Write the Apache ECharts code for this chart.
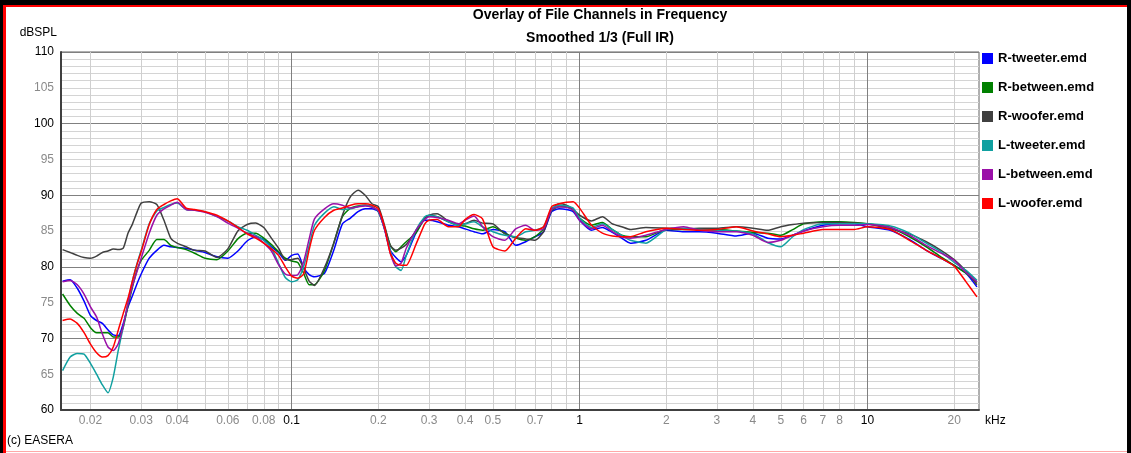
<!DOCTYPE html>
<html>
<head>
<meta charset="utf-8">
<title>Overlay of File Channels in Frequency</title>
<script src="https://cdn.jsdelivr.net/npm/echarts@6/dist/echarts.min.js"></script>
<style>
  html, body { margin: 0; padding: 0; background: #fff; }
  #chart { width: 1131px; height: 453px; }
</style>
</head>
<body>
<div id="chart"></div>
<script>
// frequency points in kHz (shared by all channels)
const freqKHz = [
  0.016, 0.017, 0.018, 0.019, 0.02, 0.021, 0.022, 0.023, 0.024, 0.025,
  0.026, 0.027, 0.028, 0.029, 0.03, 0.032, 0.034, 0.036, 0.038, 0.04,
  0.043, 0.046, 0.05, 0.055, 0.06, 0.065, 0.07, 0.075, 0.08, 0.085,
  0.09, 0.095, 0.1, 0.105, 0.11, 0.115, 0.12, 0.13, 0.14, 0.15,
  0.16, 0.17, 0.18, 0.19, 0.2, 0.21, 0.22, 0.23, 0.24, 0.25,
  0.27, 0.29, 0.3, 0.32, 0.35, 0.38, 0.4, 0.43, 0.46, 0.5,
  0.55, 0.6, 0.65, 0.7, 0.75, 0.8, 0.85, 0.9, 0.95, 1,
  1.1, 1.2, 1.3, 1.4, 1.5, 1.7, 2, 2.3, 2.6, 3,
  3.5, 4, 4.5, 5, 5.5, 6, 7, 8, 9, 10,
  12, 14, 16, 18, 20, 22, 24
];

// dBSPL per channel
const rTweeter = [
  78.0, 78.2, 77.0, 75.2, 73.2, 72.5, 72.1, 71.2, 70.5, 70.4,
  72.1, 74.4, 76.0, 77.6, 79.0, 81.2, 82.3, 83.0, 82.8, 82.7,
  82.6, 82.3, 82.0, 81.4, 81.2, 82.2, 83.6, 84.2, 83.8, 82.8,
  82.0, 80.9, 81.6, 81.8, 79.9, 78.9, 78.6, 79.1, 82.3, 86.0,
  86.8, 87.7, 88.1, 88.1, 87.7, 85.3, 82.3, 81.3, 80.7, 81.6,
  84.7, 86.5, 86.5, 86.3, 85.8, 85.6, 85.3, 84.9, 84.6, 85.2,
  84.9, 83.0, 83.5, 84.2, 84.9, 87.7, 88.1, 88.0, 87.7, 86.5,
  85.1, 85.5, 84.8, 84.0, 83.3, 83.7, 85.1, 84.9, 84.9, 84.7,
  84.3, 84.7, 84.0, 83.9, 84.4, 85.0, 85.8, 86.0, 86.0, 85.6,
  85.1, 83.8, 82.3, 81.2, 80.2, 79.1, 77.2
];
const rBetween = [
  76.2, 74.6, 73.5, 72.8, 71.5, 70.8, 70.8, 70.8, 70.2, 70.2,
  71.6, 74.6, 77.2, 79.5, 80.9, 82.3, 83.8, 83.8, 83.0, 82.7,
  82.4, 81.9, 81.2, 81.0, 82.2, 83.9, 84.7, 84.7, 84.0, 83.1,
  82.1, 81.2, 80.8, 80.6, 79.1, 77.5, 77.5, 79.5, 83.3, 87.0,
  88.2, 88.5, 88.6, 88.4, 87.7, 85.6, 83.0, 82.1, 82.8, 83.5,
  84.7, 86.8, 87.1, 87.0, 86.3, 85.8, 85.7, 85.3, 85.1, 85.6,
  84.7, 84.0, 83.7, 84.2, 85.3, 87.9, 88.4, 88.4, 87.9, 86.8,
  85.8, 86.2, 85.2, 84.4, 84.2, 84.2, 85.2, 85.2, 85.2, 85.2,
  85.0, 84.8, 84.7, 84.4, 85.2, 86.0, 86.3, 86.3, 86.2, 86.0,
  85.5, 84.2, 82.8, 81.4, 80.2, 79.1, 77.8
];
const rWoofer = [
  82.4, 82.0, 81.6, 81.3, 81.2, 81.5, 82.0, 82.2, 82.5, 82.4,
  82.6, 84.7, 86.0, 87.6, 88.9, 89.1, 88.7, 86.5, 84.0, 83.3,
  82.8, 82.3, 82.2, 81.3, 82.5, 85.0, 85.9, 86.1, 85.5, 84.0,
  82.6, 81.0, 81.0, 81.2, 79.8, 78.0, 77.4, 79.9, 83.3, 87.2,
  89.8, 90.7, 90.0, 88.8, 88.4, 85.8, 83.0, 82.3, 82.6, 83.1,
  85.0, 86.8, 87.2, 87.4, 86.4, 85.9, 86.0, 86.5, 86.1, 86.0,
  84.6, 84.1, 83.9, 83.7, 84.9, 88.0, 88.8, 88.6, 88.0, 87.2,
  86.4, 87.0, 86.0, 85.6, 85.2, 85.5, 85.4, 85.3, 85.4, 85.4,
  85.6, 85.4, 85.1, 85.6, 85.9, 86.1, 86.2, 86.2, 86.1, 86.0,
  85.3, 84.6, 83.5, 82.3, 81.0, 79.4, 77.5
];
const lTweeter = [
  65.5, 67.4, 67.9, 67.8, 66.5, 65.0, 63.5, 62.4, 64.6, 68.4,
  71.6, 75.1, 78.1, 80.4, 82.3, 86.0, 87.8, 88.3, 88.7, 88.9,
  88.0, 87.9, 87.7, 87.0, 86.4, 85.6, 85.1, 84.4, 83.7, 82.6,
  80.5, 78.5, 77.9, 78.2, 80.0, 83.0, 85.8, 87.5, 88.4, 88.0,
  88.1, 88.4, 88.6, 88.4, 87.7, 85.3, 82.3, 80.0, 79.5, 81.6,
  85.1, 87.0, 87.2, 87.0, 86.3, 85.8, 86.0, 86.3, 85.6, 84.9,
  84.4, 84.2, 84.9, 85.1, 85.6, 88.1, 88.6, 88.5, 88.2, 86.8,
  85.5, 86.0, 85.2, 84.4, 83.7, 83.3, 85.2, 85.4, 85.2, 85.1,
  85.0, 84.6, 83.4, 82.8, 84.2, 85.2, 86.0, 86.0, 86.0, 86.0,
  85.7, 84.7, 83.3, 82.1, 80.6, 79.5, 78.1
];
const lBetween = [
  77.9, 78.1, 77.5, 76.2, 74.4, 73.0, 70.6, 68.8, 68.3, 69.3,
  71.8, 74.8, 77.4, 79.3, 81.2, 84.7, 87.2, 88.1, 88.6, 89.0,
  88.0, 87.9, 87.6, 87.0, 86.1, 85.4, 84.7, 84.2, 83.3, 82.2,
  80.3, 79.0, 78.8, 78.9, 80.7, 83.9, 86.7, 88.1, 88.8, 88.6,
  88.2, 88.4, 88.5, 88.3, 87.8, 85.3, 81.9, 80.1, 80.5, 82.6,
  85.1, 86.6, 87.0, 86.9, 86.5, 86.0, 86.5, 87.1, 85.6, 84.2,
  83.7, 85.3, 85.8, 85.1, 85.3, 88.0, 88.4, 88.3, 87.9, 86.5,
  85.3, 85.8, 84.9, 84.2, 84.0, 84.4, 85.2, 85.6, 85.1, 84.9,
  84.9, 84.4, 83.4, 83.7, 84.4, 85.0, 85.6, 85.8, 85.8, 85.9,
  85.5, 84.4, 83.0, 81.9, 80.9, 79.2, 77.9
];
const lWoofer = [
  72.5, 72.7, 72.1, 70.8, 69.2, 68.0, 67.4, 67.6, 68.8, 71.2,
  73.5, 75.6, 78.1, 80.3, 82.1, 85.9, 88.0, 88.7, 89.2, 89.5,
  88.2, 88.0, 87.7, 87.2, 86.4, 85.5, 84.6, 84.0, 83.3, 82.5,
  81.6, 80.0, 78.7, 78.4, 79.0, 82.4, 85.1, 86.9, 87.9, 88.2,
  88.6, 88.8, 88.8, 88.6, 88.1, 85.6, 81.9, 80.5, 80.2, 80.2,
  83.1, 86.0, 86.5, 86.6, 85.6, 85.6, 86.6, 87.3, 86.7, 82.8,
  82.2, 84.0, 85.3, 85.1, 85.6, 88.4, 88.8, 89.0, 89.1, 88.2,
  85.8, 84.7, 84.3, 84.2, 84.2, 84.9, 85.4, 85.2, 85.1, 85.2,
  85.6, 85.0, 84.6, 84.2, 84.4, 84.7, 85.2, 85.2, 85.2, 85.6,
  85.2, 83.7, 82.3, 81.2, 80.1, 77.9, 75.8
];

const channelNames = ['R-tweeter.emd', 'R-between.emd', 'R-woofer.emd', 'L-tweeter.emd', 'L-between.emd', 'L-woofer.emd'];
const channelColors = ['#0000ff', '#008000', '#404040', '#10a0a0', '#9a10a8', '#ff0000'];
const channelValues = [rTweeter, rBetween, rWoofer, lTweeter, lBetween, lWoofer];

// vertical grid lines and frequency labels (kHz)
const gridFreqs = [
  0.02, 0.03, 0.04, 0.05, 0.06, 0.07, 0.08, 0.09,
  0.1, 0.2, 0.3, 0.4, 0.5, 0.6, 0.7, 0.8, 0.9,
  1, 2, 3, 4, 5, 6, 7, 8, 9,
  10, 20
];
const labelFreqs = [0.02, 0.03, 0.04, 0.06, 0.08, 0.1, 0.2, 0.3, 0.4, 0.5, 0.7, 1, 2, 3, 4, 5, 6, 7, 8, 10, 20];

const FONT = '"Liberation Sans", Arial, sans-serif';

const isDecade = (lv) => Math.abs(lv - Math.round(lv)) < 1e-6;

const chart = echarts.init(document.getElementById('chart'));

const option = {
  animation: false,
  backgroundColor: '#fff',
  title: [
    {
      text: 'Overlay of File Channels in Frequency',
      left: 600, top: 8, textAlign: 'center', padding: 0,
      textStyle: { fontSize: 14, fontWeight: 'bold', color: '#000', fontFamily: FONT }
    },
    {
      text: 'Smoothed 1/3 (Full IR)',
      left: 600, top: 31, textAlign: 'center', padding: 0,
      textStyle: { fontSize: 14, fontWeight: 'bold', color: '#000', fontFamily: FONT }
    }
  ],
  legend: {
    orient: 'vertical',
    left: 982, top: 52,
    padding: 0,
    itemWidth: 11, itemHeight: 11,
    itemGap: 16,
    icon: 'rect',
    textStyle: { fontSize: 13, fontWeight: 'bold', color: '#000', fontFamily: FONT },
    data: channelNames
  },
  grid: {
    left: 61, right: 152, top: 52, bottom: 43,
    show: true, borderColor: '#606060', borderWidth: 1
  },
  xAxis: {
    type: 'value',
    min: Math.log10(0.0158),
    max: Math.log10(24.4),
    name: 'kHz',
    nameLocation: 'end',
    nameGap: 6,
    nameTextStyle: { color: '#000', fontSize: 12, fontFamily: FONT, verticalAlign: 'top', align: 'left', padding: [5, 0, 0, 0] },
    axisLine: { show: true, onZero: false, lineStyle: { color: '#404040', width: 2 } },
    axisTick: { show: false, customValues: gridFreqs.map(Math.log10) },
    axisLabel: {
      customValues: labelFreqs.map(Math.log10),
      margin: 5,
      fontSize: 12,
      fontFamily: FONT,
      formatter: (v) => {
        const txt = String(parseFloat(Math.pow(10, v).toPrecision(3)));
        return isDecade(v) ? '{major|' + txt + '}' : '{minor|' + txt + '}';
      },
      rich: {
        major: { color: '#000', fontSize: 12, fontFamily: FONT },
        minor: { color: '#8a8a8a', fontSize: 12, fontFamily: FONT }
      }
    },
    splitLine: {
      show: true,
      lineStyle: { width: 1, color: gridFreqs.map((f) => isDecade(Math.log10(f)) ? '#808080' : '#cfcfcf') }
    }
  },
  yAxis: {
    type: 'value',
    min: 60, max: 110, interval: 1,
    name: 'dBSPL',
    nameLocation: 'end',
    nameGap: 13,
    nameTextStyle: { color: '#000', fontSize: 12, fontFamily: FONT, align: 'right', padding: [0, 4, 0, 0] },
    axisLine: { show: true, onZero: false, lineStyle: { color: '#404040', width: 2 } },
    axisTick: { show: false },
    axisLabel: {
      margin: 7,
      fontSize: 12,
      fontFamily: FONT,
      formatter: (v) => v % 10 === 0 ? '{major|' + v + '}' : (v % 5 === 0 ? '{minor|' + v + '}' : ''),
      rich: {
        major: { color: '#000', fontSize: 12, fontFamily: FONT },
        minor: { color: '#8a8a8a', fontSize: 12, fontFamily: FONT }
      }
    },
    splitLine: {
      show: true,
      lineStyle: { width: 1, color: Array.from({ length: 10 }, (_, i) => i === 0 ? '#808080' : '#d4d4d4') }
    }
  },
  graphic: [
    { type: 'rect', shape: { x: 0, y: 0, width: 1131, height: 5 }, style: { fill: '#000' } },
    { type: 'rect', shape: { x: 0, y: 0, width: 3, height: 453 }, style: { fill: '#000' } },
    { type: 'rect', shape: { x: 1127, y: 0, width: 4, height: 453 }, style: { fill: '#000' } },
    { type: 'rect', shape: { x: 3, y: 5, width: 1124, height: 2 }, style: { fill: '#ff0000' } },
    { type: 'rect', shape: { x: 3, y: 5, width: 3, height: 448 }, style: { fill: '#ff0000' } },
    { type: 'rect', shape: { x: 6, y: 451, width: 1121, height: 1 }, style: { fill: '#ffa8a8' } },
    { type: 'text', left: 7, top: 435, style: { text: '(c) EASERA', fontSize: 12, fill: '#000', fontFamily: FONT } }
  ],
  series: channelValues.map((vals, i) => ({
    name: channelNames[i],
    type: 'line',
    symbol: 'none',
    smooth: 0.2,
    data: freqKHz.map((f, j) => [Math.log10(f), vals[j]]),
    lineStyle: { color: channelColors[i], width: 1.5 },
    itemStyle: { color: channelColors[i] }
  }))
};

chart.setOption(option);
</script>
</body>
</html>
